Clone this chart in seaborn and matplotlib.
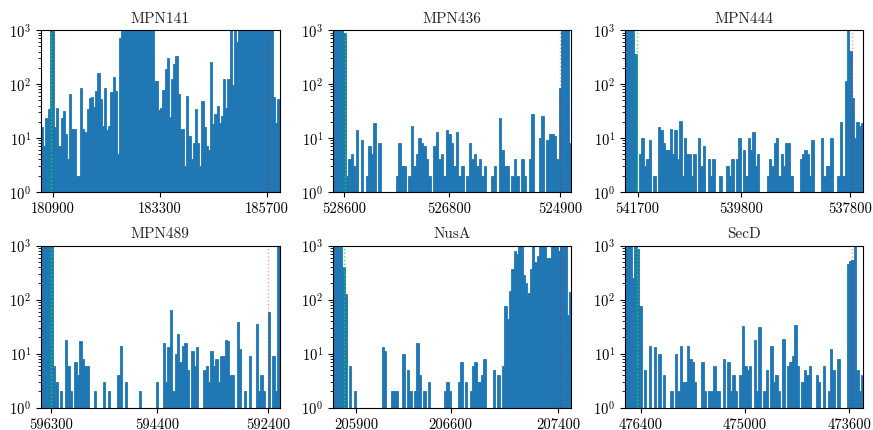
import numpy as np
import pandas as pd
import matplotlib
matplotlib.use("Agg")
import matplotlib.pyplot as plt
import seaborn as sns

sns.set_style("ticks")
plt.rcParams["font.family"] = "serif"
plt.rcParams["font.serif"] = ["cmr10"]
plt.rcParams["mathtext.fontset"] = "cm"
plt.rcParams["axes.formatter.use_mathtext"] = True
plt.rcParams["axes.edgecolor"] = "black"
plt.rcParams["xtick.color"] = "black"
plt.rcParams["ytick.color"] = "black"

F = 3000  # bins that go off the top of the axis

# ---- data: counts per bin, read left to right as drawn ----
titles = ["MPN141", "MPN436", "MPN444", "MPN489", "NusA", "SecD"]

counts_mpn141 = [16, 7, 23, 35, F, F, 16, 36, 7, 23, 31, 12, 4, 66, 15, 15, 2, 2, 83, 15,
                 13, 35, 56, 58, 38, 75, 158, 52, 17, 86, 14, 17, 72, 133, 74, 5, 700,
                 F, F, F, F, F, F, F, F, F, F, F, F, F, F, F,
                 114, 114, 33, 36, 77, 190, 300, 24, 122, 234, 330, 64, 15, 15, 3, 60, 11, 4,
                 8, 35, 8, 3, 49, 16, 7, 6, 258, 18, 28, 40, 19, 26, 122, 36, 126, F, 96, F, 590,
                 F, F, F, F, F, F, F, F, F, F, F, F, F, F, F, F, 57, 19, 52]
counts_mpn436 = [F, F, F, F, 900, 2, 4, 5, 3, 14, 0, 9, 0, 2, 7, 5, 19, 0, 8, 0, 0, 0, 0, 0, 0,
                 2, 8, 3, 3, 0, 2, 17, 3, 5, 10, 8, 7, 4, 2, 0, 7, 13, 4, 5, 2, 14, 12, 8, 3, 13,
                 2, 3, 0, 2, 8, 4, 5, 3, 4, 2, 3, 0, 0, 2, 3, 0, 23, 6, 3, 3, 0, 2, 4, 2, 0, 4,
                 2, 0, 4, 28, 0, 0, 10, 26, 0, 9, 12, 12, 11, 4, 86, F, F, F, 8]
counts_mpn444 = [F, F, F, F, 355, 0, 5, 10, 3, 4, 9, 0, 2, 0, 16, 14, 8, 6, 6, 15, 5, 14, 4, 21,
                 2, 10, 5, 5, 2, 5, 0, 10, 3, 7, 0, 4, 2, 4, 0, 0, 2, 0, 0, 3, 2, 4, 0, 4, 10, 0,
                 6, 2, 10, 6, 13, 3, 5, 0, 0, 0, 2, 4, 3, 8, 10, 2, 5, 3, 8, 8, 2, 0, 0, 0, 4, 5,
                 6, 5, 2, 9, 0, 0, 0, 10, 2, 3, 3, 10, 0, 0, 2, 20, 2, 114, F, 414, 54, 10, 20,
                 17, 19]
counts_mpn489 = [F, F, F, F, F, 6, 3, 0, 2, 0, 18, 6, 2, 0, 7, 4, 17, 8, 6, 6, 0, 0, 2, 0, 0,
                 0, 3, 0, 2, 0, 0, 0, 4, 14, 0, 3, 0, 0, 0, 0, 0, 2, 0, 0, 0, 0, 0, 0, 3, 0, 0,
                 16, 3, 13, 64, 2, 10, 23, 7, 14, 16, 5, 0, 11, 6, 13, 0, 0, 5, 6, 3, 11, 6, 8,
                 3, 9, 9, 18, 17, 4, 4, 0, 38, 12, 0, 2, 0, 9, 0, 0, 35, 2, 4, 2, 0, 59, 0, 9, 2, F]
counts_nusa = [F, F, F, F, 400, 127, 0, 6, 0, 2, 0, 0, 0, 0, 0, 0, 0, 0, 0, 0, 0,
               13, 11, 0, 0, 2, 2, 2, 0, 0, 10, 0, 5, 2, 0, 2, 16, 4, 0, 2, 0,
               3, 0, 0, 0, 0, 0, 0, 2, 3, 2, 0, 0, 0, 3, 7, 0, 3, 0, 2, 6, 7,
               3, 3, 4, 8, 0, 0, 0, 5, 0, 4, 0, 6, 77, 43, 143, 370, 790, 700, F, F, 290, 200,
               133, 370, F, 490, 630, F, F, F, 600, 600, F, F, F, 800, F, F, F, 52, 137]
counts_secd = [F, F, F, 250, F, 870, 77, 0, 5, 0, 14, 0, 13, 0, 10, 0, 4, 0, 0, 2, 0, 10, 2,
               14, 3, 3, 14, 8, 7, 3, 0, 0, 7, 2, 0, 2, 2, 6, 2, 2, 0, 8, 0, 7, 2, 4, 2, 0, 4,
               33, 6, 5, 6, 0, 18, 2, 31, 0, 2, 5, 0, 14, 3, 4, 2, 0, 19, 0, 6, 7, 9, 34, 6, 0,
               3, 5, 4, 6, 0, 0, 4, 3, 0, 6, 0, 2, 12, 5, 0, 8, 0, 0, 0, 460, 510, 540, F, 5, 2, 4]

all_counts = [counts_mpn141, counts_mpn436, counts_mpn444, counts_mpn489, counts_nusa, counts_secd]

# genome coordinate at the left and right edge of each panel (minus-strand genes run backwards)
x_left = [180638, 528788, 541932, 596486, 205726, 476614]
x_right = [185976, 524712, 537557, 592189, 207499, 473413]
gene_start = [180869, 528588, 541718, 596300, 205808, 476458]
gene_end = [185716, 524900, 537759, 592400, 207413, 473560]
xticks = [[180900, 183300, 185700], [528600, 526800, 524900], [541700, 539800, 537800],
          [596300, 594400, 592400], [205900, 206600, 207400], [476400, 475000, 473600]]

fig, axes = plt.subplots(2, 3, figsize=(8.73, 4.31), dpi=100)
fig.subplots_adjust(left=0.047, right=0.989, bottom=0.052, top=0.928, wspace=0.224, hspace=0.331)

for i, ax in enumerate(axes.flat):
    c = np.array(all_counts[i], dtype=float)
    edges = np.linspace(x_left[i], x_right[i], len(c) + 1)
    df = pd.DataFrame({"pos": (edges[:-1] + edges[1:]) / 2, "count": c})
    sns.histplot(data=df, x="pos", weights="count", bins=list(np.sort(edges)), ax=ax,
                 color="#1f77b4", alpha=1, linewidth=0.6, edgecolor="#1f77b4")
    ax.axvline(gene_start[i], color="lime", ls=":", lw=1, alpha=0.8)
    ax.axvline(gene_end[i], color="red", ls=":", lw=1, alpha=0.4)
    ax.set_yscale("log")
    ax.set_ylim(1, 1000)
    ax.set_xlim(x_left[i], x_right[i])
    ax.set_xticks(xticks[i])
    ax.set_xticklabels([str(t) for t in xticks[i]])
    ax.set_xlabel("")
    ax.set_ylabel("")
    ax.set_title(titles[i], fontsize=11)
    ax.tick_params(labelsize=10.5)
    for s in ax.spines.values():
        s.set_visible(True)
        s.set_linewidth(0.8)

fig.savefig("out.png", dpi=100)
